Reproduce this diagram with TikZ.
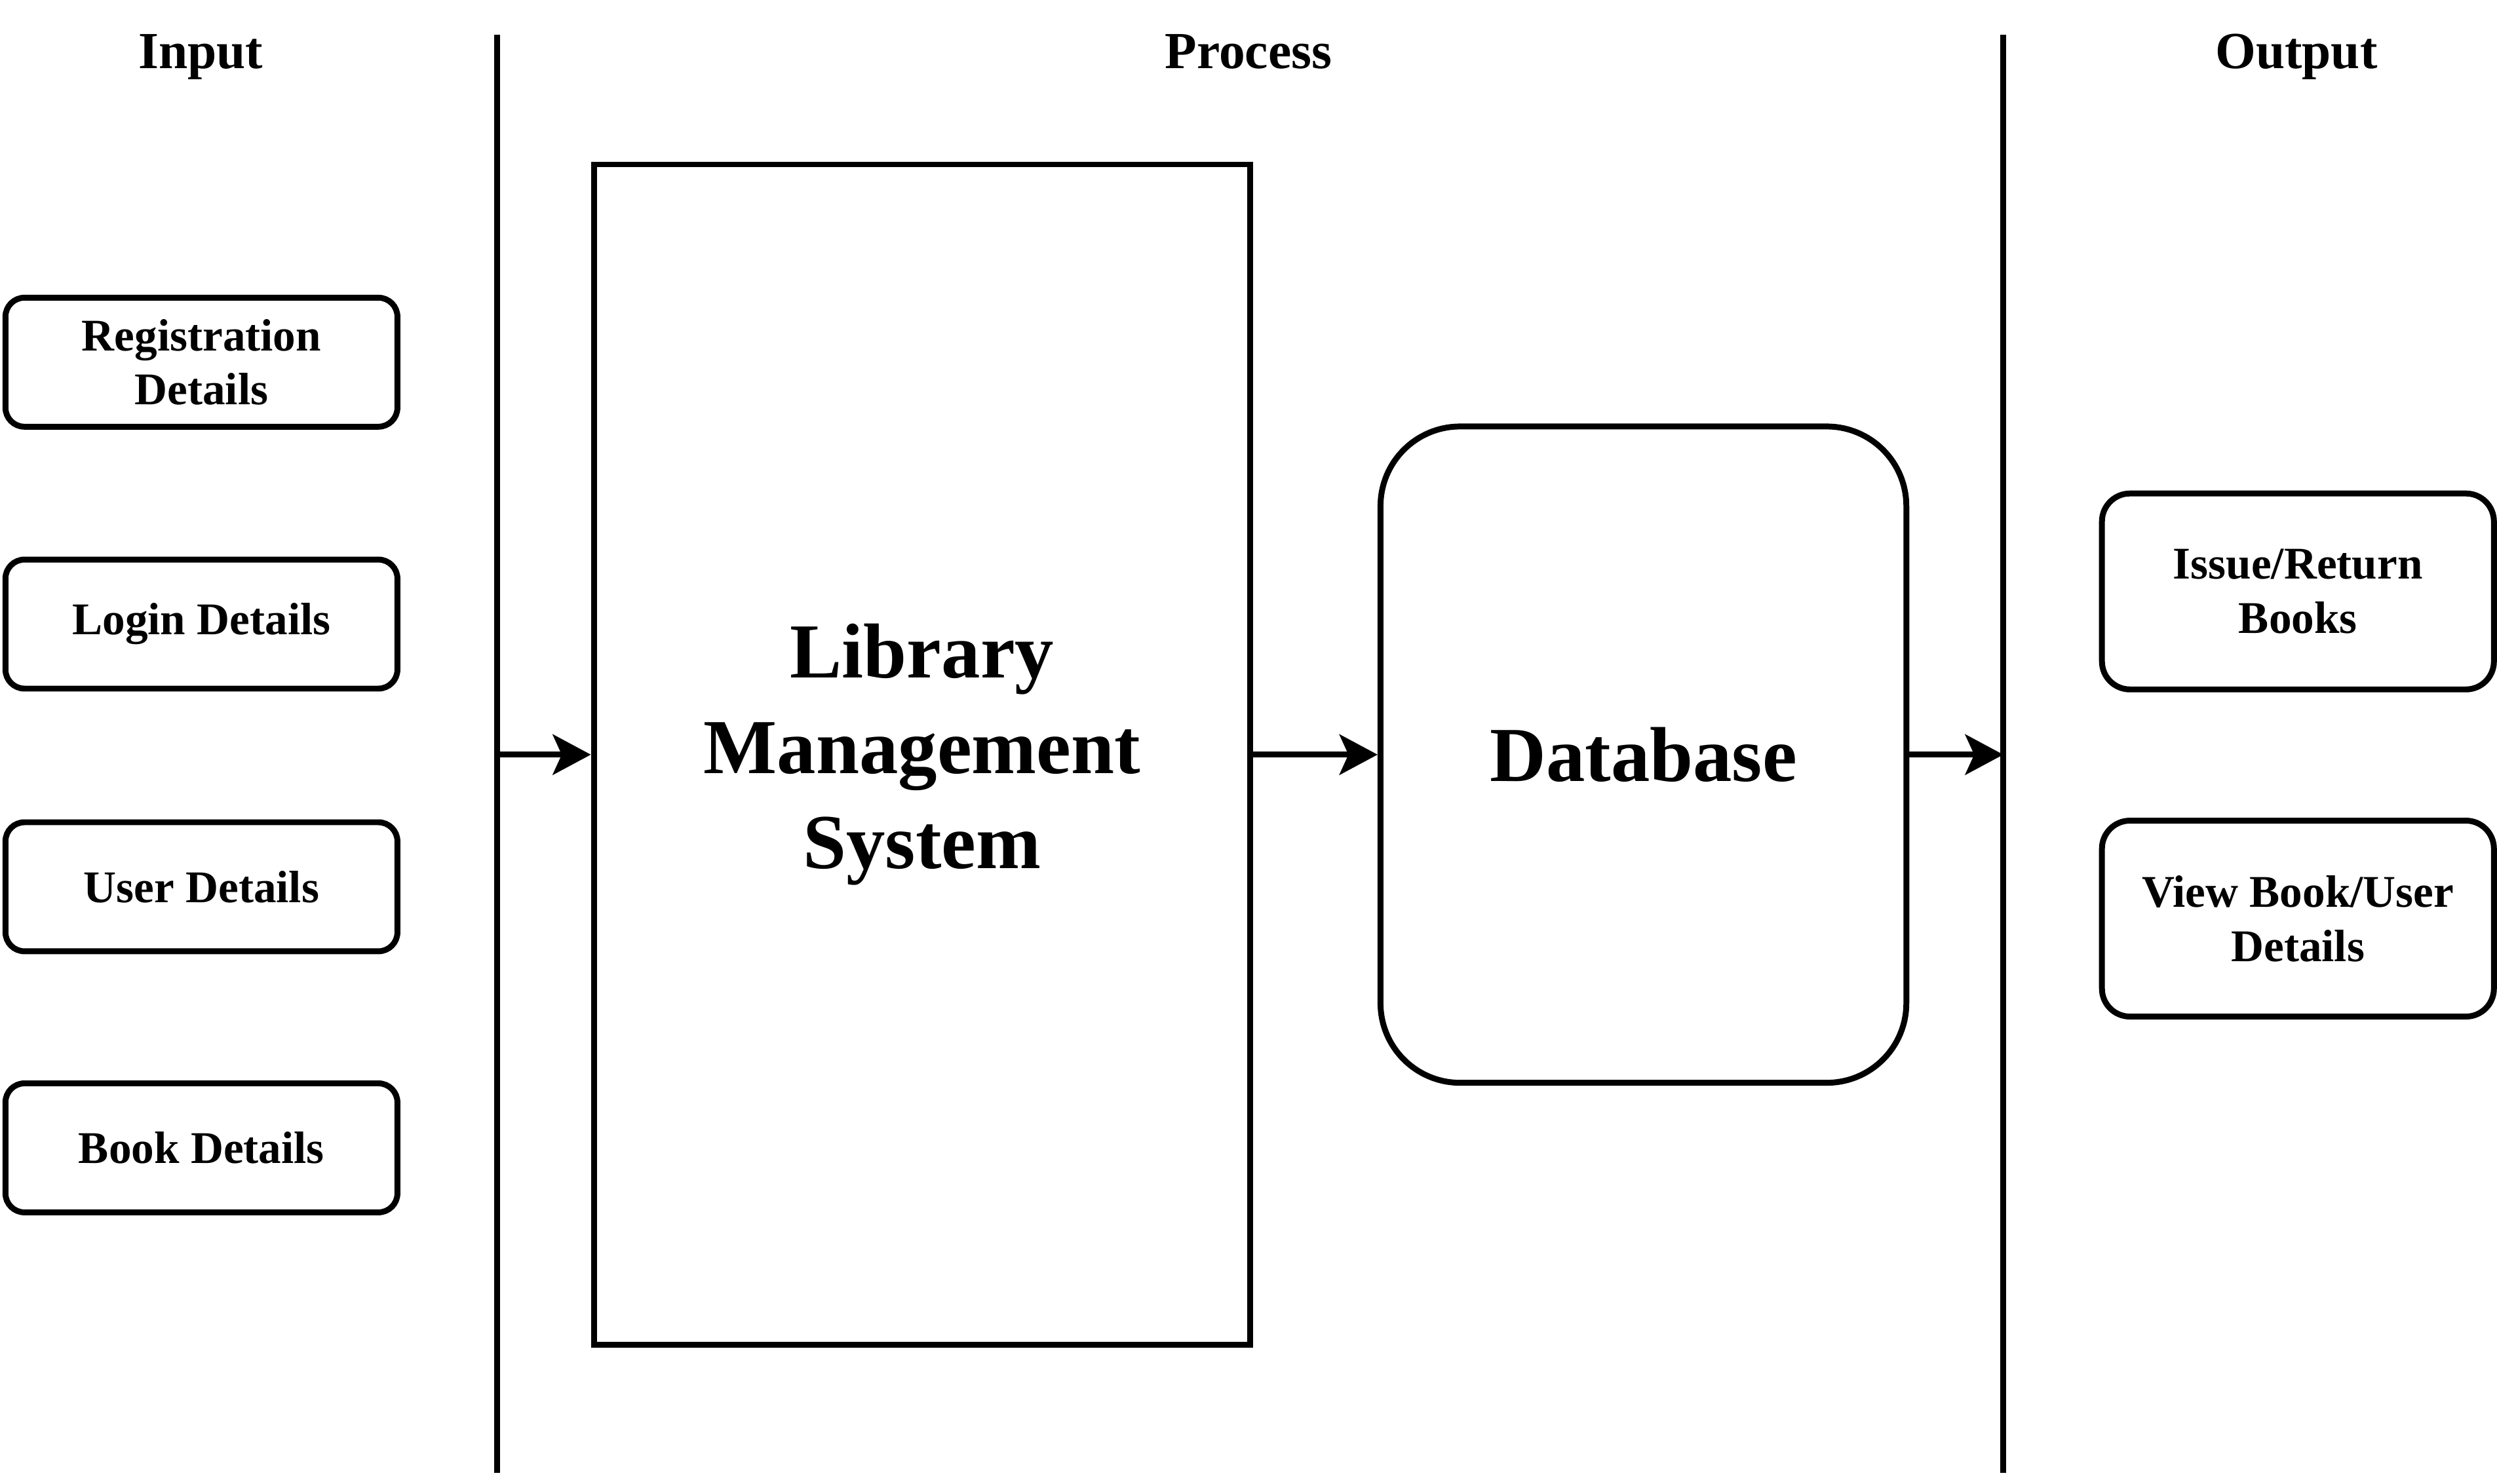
\documentclass[tikz,border=0pt]{standalone}
\usepackage{fontspec}
\setmainfont{Liberation Serif}
\usetikzlibrary{arrows.meta}

\begin{document}
\begin{tikzpicture}[
            x=0.01cm, y=-0.01cm,
            line width=1.05pt,
            head-node/.style={anchor=base,font=\fontsize{9.3}{11}\selectfont\bfseries},
            in-node/.style={draw,rounded corners=3.4pt,align=center,
                minimum width=2.46cm,minimum height=0.81cm,inner sep=0pt,
                font=\fontsize{8.1}{9.7}\selectfont\bfseries},
            out-node/.style={in-node,rounded corners=5pt,minimum height=1.23cm},
            big-node/.style={draw,align=center,inner sep=0pt,
                font=\fontsize{13.9}{17}\selectfont\bfseries},
            flow/.style={-{Stealth[length=6.8pt,width=7.2pt,inset=1.6pt]}},
        ]
            \useasboundingbox (0,0) rectangle (1568,932);
            % column titles
            \node[head-node] (input) at (126, 43) {Input};
            \node[head-node] (process) at (784, 43) {Process};
            \node[head-node] (output) at (1442, 43) {Output};
            % separators
            \coordinate (sep1top) at (312, 22);
            \coordinate (sep1bot) at (312, 925);
            \coordinate (sep2top) at (1258, 22);
            \coordinate (sep2bot) at (1258, 925);
            \draw (sep1top) -- (sep1bot);
            \draw (sep2top) -- (sep2bot);
            % inputs
            \node[in-node] (reg) at (126.5, 227.5) {Registration\\Details};
            \node[in-node] (login) at (126.5, 392) {Login Details};
            \node[in-node] (user) at (126.5, 557) {User Details};
            \node[in-node] (book) at (126.5, 721) {Book Details};
            % process
            \node[big-node,minimum width=4.12cm,minimum height=7.41cm] (lms) at (579, 474) {Library\\Management\\System};
            \node[big-node,rounded corners=14.2pt,minimum width=3.3cm,minimum height=4.12cm] (db) at (1032, 474) {Database};
            % outputs
            \node[out-node] (issue) at (1443, 371.5) {Issue/Return\\Books};
            \node[out-node] (view) at (1443, 577) {View Book/User\\Details};
            % flow
            \coordinate (inlet) at (312, 474);
            \coordinate (outlet) at (1258, 474);
            \draw[flow] (inlet) -- (lms.west);
            \draw[flow] (lms.east) -- (db.west);
            \draw[flow] (db.east) -- (outlet);
        \end{tikzpicture}
\end{document}
